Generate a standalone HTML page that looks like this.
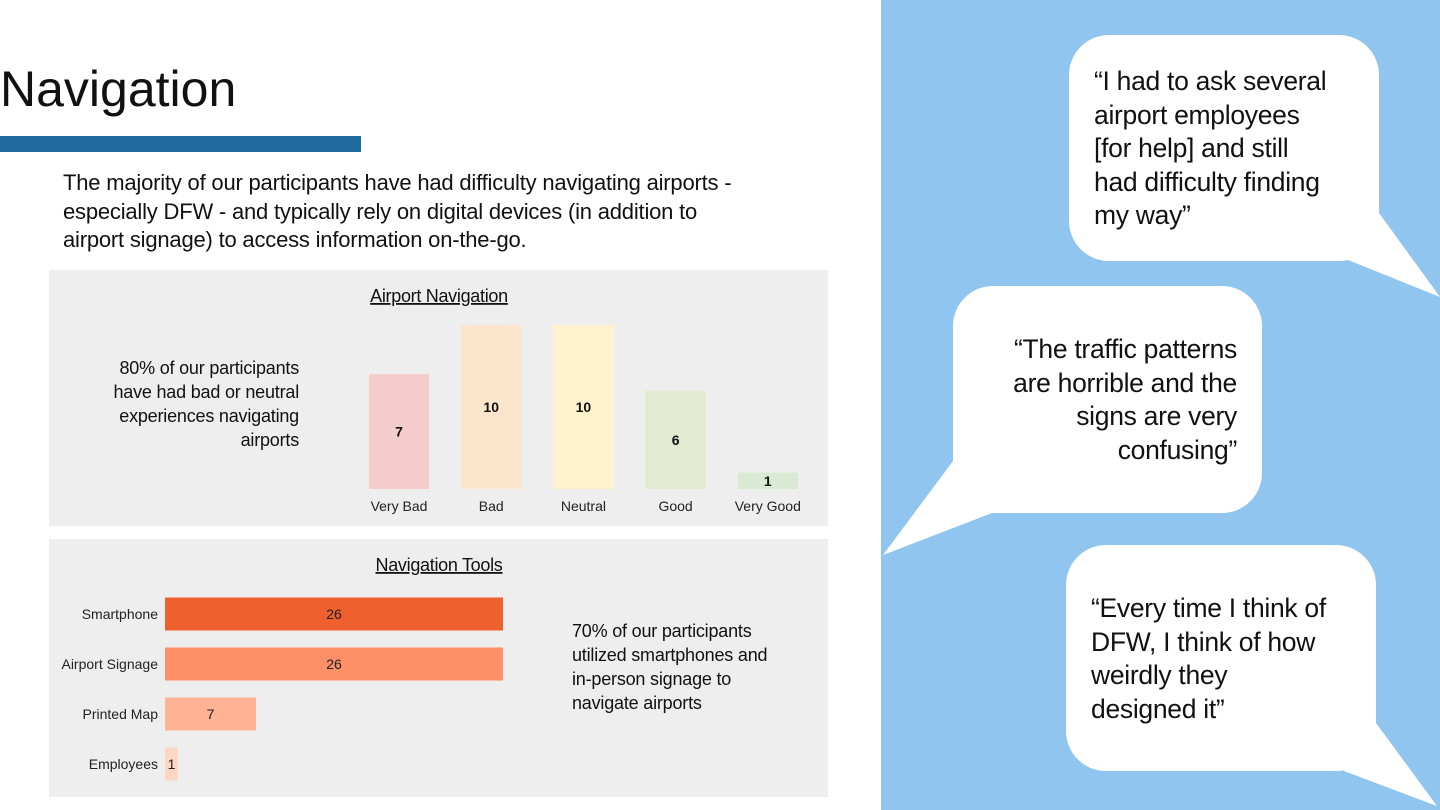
<!DOCTYPE html>
<html><head><meta charset="utf-8"><style>
body{margin:0;width:1440px;height:810px;background:#fff;position:relative;overflow:hidden;font-family:"Liberation Sans",sans-serif;color:#111}
.abs{position:absolute}
.panel{background:#eeeeee}
.q{font-size:26.5px;line-height:33.5px;color:#111;white-space:nowrap;letter-spacing:-0.3px}
.nw{white-space:nowrap}
</style></head><body>
<div class="abs" style="left:0;top:60px;font-size:50px;">Navigation</div>
<div class="abs" style="left:0;top:136px;width:361px;height:16px;background:#1f6a9f"></div>
<div class="abs nw" style="left:63px;top:169px;font-size:22px;line-height:28.5px;letter-spacing:-0.2px">The majority of our participants have had difficulty navigating airports -<br>especially DFW - and typically rely on digital devices (in addition to<br>airport signage) to access information on-the-go.</div>

<div class="abs panel" style="left:49px;top:270px;width:779px;height:256px"></div>
<div class="abs nw" style="left:40px;top:356px;width:259px;text-align:right;font-size:18px;line-height:24px;letter-spacing:-0.2px">80% of our participants<br>have had bad or neutral<br>experiences navigating<br>airports</div>
<div class="abs panel" style="left:49px;top:539px;width:779px;height:258px"></div>
<div class="abs nw" style="left:572px;top:619px;font-size:18px;line-height:24px;letter-spacing:-0.2px">70% of our participants<br>utilized smartphones and<br>in-person signage to<br>navigate airports</div>

<svg class="abs" style="left:0;top:0" width="880" height="810">
<g id="vchart"></g>
<g id="hchart"></g>
</svg>

<div class="abs" style="left:881px;top:0;width:559px;height:810px;background:#8fc5ee"></div>
<svg class="abs" style="left:0;top:0" width="1440" height="810">
<g fill="#fff">
<rect x="1069" y="35" width="310" height="226" rx="40"/>
<polygon points="1379,213 1440,297 1348,260 1370,230"/>
<rect x="953" y="286" width="309" height="227" rx="40"/>
<polygon points="953,461 883,555 992,513 965,500"/>
<rect x="1066" y="545" width="310" height="226" rx="40"/>
<polygon points="1376,723 1437,806 1344,771 1366,740"/>
</g></svg>
<div class="abs q" style="left:1094px;top:65px">“I had to ask several<br>airport employees<br>[for help] and still<br>had difficulty finding<br>my way”</div>
<div class="abs q" style="left:937px;top:333px;width:300px;text-align:right">“The traffic patterns<br>are horrible and the<br>signs are very<br>confusing”</div>
<div class="abs q" style="left:1091px;top:592px">“Every time I think of<br>DFW, I think of how<br>weirdly they<br>designed it”</div>

<script>
const navCategories=["Very Bad","Bad","Neutral","Good","Very Good"];
const navValues=[7,10,10,6,1];
const navColors=["#f4cccc","#fce5cd","#fff2cc","#e3ead2","#d9ead3"];
const toolCategories=["Smartphone","Airport Signage","Printed Map","Employees"];
const toolValues=[26,26,7,1];
const toolColors=["#ee602e","#ff8f67","#ffb294","#ffd5c3"];
const NS="http://www.w3.org/2000/svg";
function mk(tag,attrs,parent,text){const e=document.createElementNS(NS,tag);for(const k in attrs)e.setAttribute(k,attrs[k]);if(text!==undefined)e.textContent=text;parent.appendChild(e);return e;}
const vg=document.getElementById('vchart');
const vBase=489,vScale=16.4,vX0=399,vStep=92.2,vW=60;
const vy=v=>vBase-v*vScale, vx=i=>vX0+i*vStep;
let t=mk('text',{x:439,y:302,'text-anchor':'middle','font-size':18,'text-decoration':'underline',fill:'#111','letter-spacing':'-0.3'},vg,"Airport Navigation");


navValues.forEach((v,i)=>{
 const r=mk('rect',{x:vx(i)-vW/2,y:vy(v),width:vW,height:v*vScale,fill:navColors[i]},vg);
 
 
 const l=mk('text',{x:vx(i),y:(vy(v)+vBase)/2+5,'text-anchor':'middle','font-size':14,'font-weight':'bold',fill:'#111'},vg,String(v));
 
 
 const c=mk('text',{x:vx(i),y:511,'text-anchor':'middle','font-size':14,fill:'#222'},vg,navCategories[i]);
 
 
});
const hg=document.getElementById('hchart');
const hX0=165,hScale=13,hY0=614,hStep=50,hH=33;
const hx=v=>hX0+v*hScale, hy=i=>hY0+i*hStep;
t=mk('text',{x:439,y:571,'text-anchor':'middle','font-size':18,'text-decoration':'underline',fill:'#111','letter-spacing':'-0.3'},hg,"Navigation Tools");


toolValues.forEach((v,i)=>{
 const r=mk('rect',{x:hX0,y:hy(i)-hH/2,width:hx(v)-hX0,height:hH,fill:toolColors[i]},hg);
 
 
 const l=mk('text',{x:(hX0+hx(v))/2,y:hy(i)+5,'text-anchor':'middle','font-size':14,fill:'#222'},hg,String(v));
 
 
 const c=mk('text',{x:158,y:hy(i)+5,'text-anchor':'end','font-size':14,fill:'#222'},hg,toolCategories[i]);
 
 
});
</script>
</body></html>
